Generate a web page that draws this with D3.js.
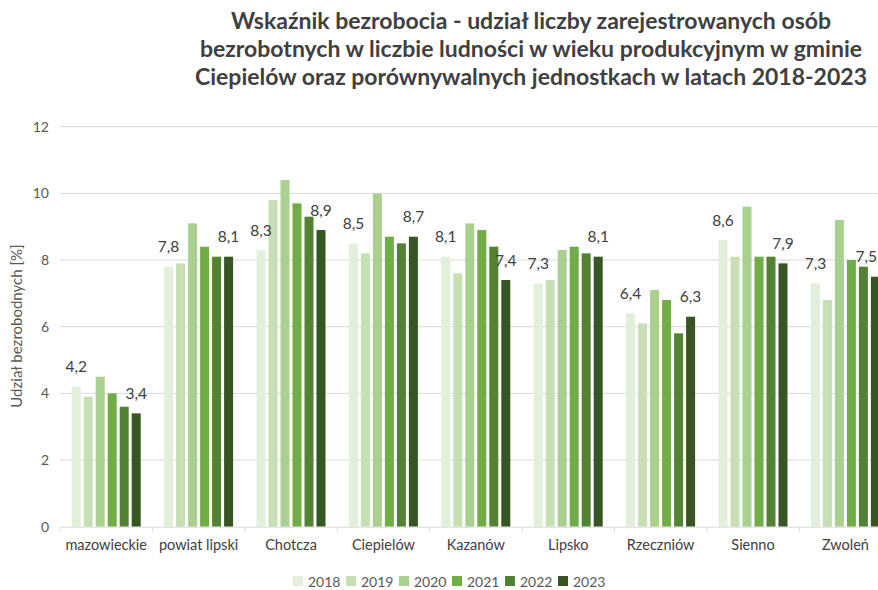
<!DOCTYPE html>
<html><head><meta charset="utf-8">
<script src="https://cdn.jsdelivr.net/npm/d3@7"></script>
<style>
html,body{margin:0;padding:0;background:#fff;}
svg{display:block;font-family:Lato,"Open Sans",sans-serif;}
</style></head>
<body><svg id="c" width="878" height="590"></svg>
<script>
const categories = ["mazowieckie","powiat lipski","Chotcza","Ciepielów","Kazanów","Lipsko","Rzeczniów","Sienno","Zwoleń"];
const years = ["2018","2019","2020","2021","2022","2023"];
const v2018 = [4.2, 7.8, 8.3, 8.5, 8.1, 7.3, 6.4, 8.6, 7.3];
const v2019 = [3.9, 7.9, 9.8, 8.2, 7.6, 7.4, 6.1, 8.1, 6.8];
const v2020 = [4.5, 9.1, 10.4, 10.0, 9.1, 8.3, 7.1, 9.6, 9.2];
const v2021 = [4.0, 8.4, 9.7, 8.7, 8.9, 8.4, 6.8, 8.1, 8.0];
const v2022 = [3.6, 8.1, 9.3, 8.5, 8.4, 8.2, 5.8, 8.1, 7.8];
const v2023 = [3.4, 8.1, 8.9, 8.7, 7.4, 8.1, 6.3, 7.9, 7.5];
const yTicks = [0, 2, 4, 6, 8, 10, 12];
const labelledYears = ["2018", "2023"];
const colors = ["#e2efda", "#c6e0b4", "#a9d08e", "#70ad47", "#548235", "#375623"];
const titleLines = [
  "Wskaźnik bezrobocia - udział liczby zarejestrowanych osób",
  "bezrobotnych w liczbie ludności w wieku produkcyjnym w gminie",
  "Ciepielów oraz porównywalnych jednostkach w latach 2018-2023"
];
const yTitle = "Udział bezrobodnych [%]";

const seriesVals = [v2018, v2019, v2020, v2021, v2022, v2023];
const data = categories.map((c, i) => ({cat: c, vals: years.map((y, j) => ({year: y, value: seriesVals[j][i]}))}));

const W = 878;
const svg = d3.select("#c");
const left = 60, bandW = 92.4;
const x = d3.scaleBand().domain(categories).range([left, left + bandW * categories.length]).padding(0);
const x1 = d3.scaleBand().domain(years).range([0, x.bandwidth()]).paddingInner(0.25).paddingOuter(0.975);
const y = d3.scaleLinear().domain([0, 12]).range([526.7, 126.7]);
const color = d3.scaleOrdinal().domain(years).range(colors);

// gridlines
svg.append("g").selectAll("line").data(yTicks.filter(t => t > 0)).join("line")
  .attr("x1", left).attr("x2", W).attr("y1", d => y(d)).attr("y2", d => y(d))
  .attr("stroke", "#d9d9d9").attr("stroke-width", 1);

// y axis labels
const yAxis = d3.axisLeft(y).tickValues(yTicks).tickSize(0).tickPadding(0).tickFormat(d3.format("d"));
const ya = svg.append("g").attr("transform", `translate(${left - 11},0)`).call(yAxis);
ya.select(".domain").remove();
ya.selectAll("text").attr("fill", "#595959").style("font-size", "14px").style("font-family", "Lato");

// bars
const groups = svg.append("g").selectAll("g").data(data).join("g")
  .attr("transform", d => `translate(${x(d.cat)},0)`);
groups.selectAll("rect").data(d => d.vals).join("rect")
  .attr("x", d => x1(d.year)).attr("width", x1.bandwidth())
  .attr("y", d => y(d.value)).attr("height", d => y(0) - y(d.value))
  .attr("fill", d => color(d.year));

// data labels
const labels = groups.selectAll("text").data(d => d.vals.filter(v => labelledYears.includes(v.year)).map(v => Object.assign({cat: d.cat}, v))).join("text")
  .attr("x", d => x1(d.year) + x1.bandwidth() / 2)
  .attr("y", d => y(d.value) - 14.5)
  .attr("text-anchor", "middle").attr("fill", "#404040").style("font-size", "15.5px")
  .text(d => d3.format(".1f")(d.value).replace(".", ","));
// keep labels within the picture
labels.each(function(d) {
  const bb = this.getBBox();
  const gx = x(d.cat);
  const overflow = gx + bb.x + bb.width - (W - 1);
  if (overflow > 0) d3.select(this).attr("x", +d3.select(this).attr("x") - overflow);
});

// x axis
const xAxis = d3.axisBottom(x).tickSize(0).tickPadding(13);
const xa = svg.append("g").attr("transform", `translate(0,${y(0)})`).call(xAxis);
xa.select(".domain").attr("stroke", "#d9d9d9");
xa.selectAll("text").attr("fill", "#404040").style("font-size", "14.5px").style("font-family", "Lato");
svg.append("g").selectAll("line").data(d3.range(categories.length + 1)).join("line")
  .attr("x1", i => left + i * x.step()).attr("x2", i => left + i * x.step())
  .attr("y1", y(0)).attr("y2", y(0) + 5).attr("stroke", "#d9d9d9");

// y title
svg.append("text").attr("transform", "translate(22,326) rotate(-90)")
  .attr("text-anchor", "middle").attr("fill", "#595959").style("font-size", "15px").text(yTitle);

// title
svg.append("g").selectAll("text").data(titleLines).join("text")
  .attr("x", 531).attr("y", (d, i) => 29 + i * 28)
  .attr("text-anchor", "middle").attr("fill", "#404040")
  .style("font-size", "23px").style("font-weight", "bold").text(d => d);

// legend
const lg = svg.append("g").selectAll("g").data(years).join("g")
  .attr("transform", (d, i) => `translate(${293 + i * 53},576)`);
lg.append("rect").attr("width", 10).attr("height", 10).attr("fill", d => color(d));
lg.append("text").attr("x", 15).attr("y", 10.5).attr("fill", "#595959").style("font-size", "14px").text(d => d);
</script></body></html>
